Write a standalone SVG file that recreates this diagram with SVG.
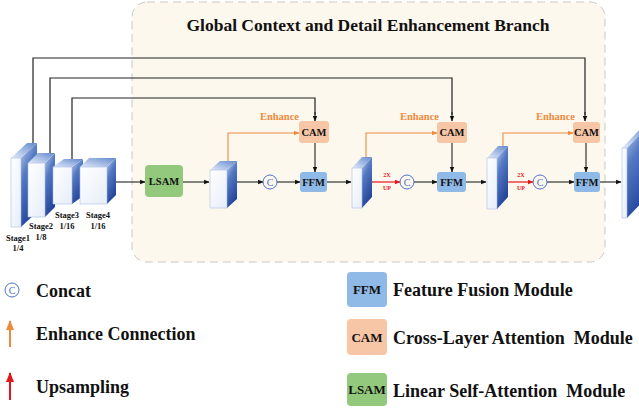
<svg xmlns="http://www.w3.org/2000/svg" width="639" height="408" viewBox="0 0 639 408">
  <defs>
    <linearGradient id="gFront" x1="0" y1="0" x2="1" y2="1">
      <stop offset="0" stop-color="#ffffff"/>
      <stop offset="1" stop-color="#e6edf9"/>
    </linearGradient>
    <linearGradient id="gSide" x1="0" y1="0" x2="0.4" y2="1">
      <stop offset="0" stop-color="#bcd0f0"/>
      <stop offset="0.4" stop-color="#5479c2"/>
      <stop offset="1" stop-color="#22449a"/>
    </linearGradient>
    <linearGradient id="gTop" x1="0" y1="1" x2="1" y2="0">
      <stop offset="0" stop-color="#e3ebf8"/>
      <stop offset="1" stop-color="#6389cd"/>
    </linearGradient>
    <marker id="ah" viewBox="0 0 10 10" refX="9" refY="5" markerWidth="5" markerHeight="5" orient="auto">
      <path d="M0,1 L10,5 L0,9 z" fill="#111"/>
    </marker>
    <marker id="ahO" viewBox="0 0 10 10" refX="9" refY="5" markerWidth="5" markerHeight="5" orient="auto">
      <path d="M0,1 L10,5 L0,9 z" fill="#ef8a3c"/>
    </marker>
    <marker id="ahR" viewBox="0 0 10 10" refX="9" refY="5" markerWidth="5" markerHeight="5" orient="auto">
      <path d="M0,1 L10,5 L0,9 z" fill="#e8141b"/>
    </marker>
  </defs>
  <style>
    text { font-family: "Liberation Serif", "Times New Roman", serif; font-weight: bold; fill: #111; }
    .front { fill: url(#gFront); stroke: #a9bde3; stroke-width: 0.6; }
    .side { fill: url(#gSide); stroke: none; }
    .top { fill: url(#gTop); stroke: none; }
    .ln { fill: none; stroke: #222; stroke-width: 1.2; }
    .arr { fill: none; stroke: #222; stroke-width: 1.1; marker-end: url(#ah); }
    .orange { fill: none; stroke: #ef8a3c; stroke-width: 1.1; marker-end: url(#ahO); }
    .red { fill: none; stroke: #e8141b; stroke-width: 1.2; marker-end: url(#ahR); }
    .thick { stroke-width: 2; }
    .ffm { fill: #8fb9e6; }
    .cam { fill: #f6c6a6; }
    .lsam { fill: #93c97c; }
    .box-t { font-size: 10.5px; text-anchor: middle; }
    .leg-box-t { font-size: 13px; text-anchor: middle; }
    .stage { font-size: 8.5px; text-anchor: middle; }
    .enh { font-size: 10.5px; fill: #ef8a3c; text-anchor: end; }
    .up { font-size: 6px; fill: #e8141b; text-anchor: middle; }
    .cc { fill: none; stroke: #4d72c6; stroke-width: 1; }
    .cc-t { font-size: 10px; fill: #4d72c6; font-weight: normal; text-anchor: middle; }
    .leg { font-size: 18px; }
  </style>

  <!-- branch panel -->
  <rect x="132" y="2" width="473" height="260" rx="15" fill="#fdf8ee" stroke="#c9c9c9" stroke-width="1" stroke-dasharray="8,5"/>
  <text x="368" y="31" font-size="17.5" text-anchor="middle">Global Context and Detail Enhancement Branch</text>

  <!-- connectors -->
  <g id="connectors">
    <!-- skip connections from the encoder stages -->
    <path class="ln" d="M33,147 V58 H585 V115" />
    <path class="arr" d="M585,112 V121" />
    <path class="ln" d="M50,157 V78 H452 V115" />
    <path class="arr" d="M452,112 V121" />
    <path class="ln" d="M72,161 V98 H315 V115" />
    <path class="arr" d="M315,112 V121" />

    <!-- main path -->
    <path class="arr" d="M115,182 H145" />
    <path class="arr" d="M183,182 H209" />
    <path class="arr" d="M237,182 H263" />
    <path class="arr" d="M277,182 H300" />
    <path class="arr" d="M327,182 H351" />
    <path class="red" d="M372,182 H400" />
    <path class="arr" d="M414,182 H437" />
    <path class="arr" d="M466,182 H486" />
    <path class="red" d="M508,182 H533" />
    <path class="arr" d="M547,182 H574" />
    <path class="arr" d="M600,182 H621" />

    <!-- CAM to FFM -->
    <path class="arr" d="M315,143 V172" />
    <path class="arr" d="M452,143 V172" />
    <path class="arr" d="M586,143 V172" />

    <!-- enhance connections -->
    <path class="orange" d="M228,163 V133 H299" />
    <path class="orange" d="M366,160 V133 H437" />
    <path class="orange" d="M503,150 V133 H573" />
  </g>

  <!-- encoder stages -->
  <g id="stage1">
    <polygon class="side" points="21,158 37,143 37,212 21,227"/>
    <polygon class="top" points="11,158 21,158 37,143 27,143"/>
    <rect class="front" x="11" y="158" width="10" height="69"/>
  </g>
  <g id="stage2">
    <polygon class="side" points="45,163 55,153 55,207 45,217"/>
    <polygon class="top" points="28,163 45,163 55,153 38,153"/>
    <rect class="front" x="28" y="163" width="17" height="54"/>
  </g>
  <g id="stage3">
    <polygon class="side" points="72,167 83,159 83,196 72,204"/>
    <polygon class="top" points="53,167 72,167 83,159 64,159"/>
    <rect class="front" x="53" y="167" width="19" height="37"/>
  </g>
  <g id="stage4">
    <polygon class="side" points="107,167 116,158 116,195 107,204"/>
    <polygon class="top" points="80,167 107,167 116,158 89,158"/>
    <rect class="front" x="80" y="167" width="27" height="37"/>
  </g>
  <g id="stage-labels">
    <text class="stage" x="18" y="241">Stage1</text>
    <text class="stage" x="18" y="251">1/4</text>
    <text class="stage" x="41" y="229">Stage2</text>
    <text class="stage" x="41" y="240">1/8</text>
    <text class="stage" x="67" y="218">Stage3</text>
    <text class="stage" x="67" y="229">1/16</text>
    <text class="stage" x="98" y="218">Stage4</text>
    <text class="stage" x="98" y="229">1/16</text>
  </g>

  <g id="lsam">
    <rect class="lsam" x="145" y="165" width="38" height="32" rx="4"/>
    <text class="box-t" x="164" y="185">LSAM</text>
  </g>

  <!-- decoder feature maps -->
  <g id="feat1">
    <polygon class="side" points="227,170 237,161 237,199 227,208"/>
    <polygon class="top" points="210,170 227,170 237,161 220,161"/>
    <rect class="front" x="210" y="170" width="17" height="38"/>
  </g>
  <g id="feat2">
    <polygon class="side" points="362,168 372,157 372,197 362,208"/>
    <polygon class="top" points="352,168 362,168 372,157 362,157"/>
    <rect class="front" x="352" y="168" width="10" height="40"/>
  </g>
  <g id="feat3">
    <polygon class="side" points="497,158 508,146 508,197 497,209"/>
    <polygon class="top" points="487,158 497,158 508,146 498,146"/>
    <rect class="front" x="487" y="158" width="10" height="51"/>
  </g>
  <g id="feat-out">
    <polygon class="side" points="627,148 650,124 650,194 627,218"/>
    <polygon class="top" points="622,148 627,148 650,124 645,124"/>
    <rect class="front" x="622" y="148" width="5" height="70"/>
  </g>

  <!-- attention and fusion modules -->
  <g id="cam1">
    <rect class="cam" x="299" y="121" width="30" height="22" rx="3"/>
    <text class="box-t" x="314" y="136">CAM</text>
  </g>
  <g id="ffm1">
    <rect class="ffm" x="300" y="172" width="27" height="20" rx="3"/>
    <text class="box-t" x="313.5" y="186">FFM</text>
  </g>
  <g id="cam2">
    <rect class="cam" x="437" y="122" width="30" height="21" rx="3"/>
    <text class="box-t" x="452" y="136">CAM</text>
  </g>
  <g id="ffm2">
    <rect class="ffm" x="437" y="172" width="29" height="20" rx="3"/>
    <text class="box-t" x="451.5" y="186">FFM</text>
  </g>
  <g id="cam3">
    <rect class="cam" x="573" y="122" width="27" height="21" rx="3"/>
    <text class="box-t" x="586.5" y="136">CAM</text>
  </g>
  <g id="ffm3">
    <rect class="ffm" x="574" y="172" width="26" height="20" rx="3"/>
    <text class="box-t" x="587" y="186">FFM</text>
  </g>

  <!-- concat nodes -->
  <g id="concat1">
    <circle class="cc" cx="270" cy="182" r="7"/>
    <text class="cc-t" x="270" y="185.5">C</text>
  </g>
  <g id="concat2">
    <circle class="cc" cx="407" cy="182" r="7"/>
    <text class="cc-t" x="407" y="185.5">C</text>
  </g>
  <g id="concat3">
    <circle class="cc" cx="540" cy="182" r="7"/>
    <text class="cc-t" x="540" y="185.5">C</text>
  </g>

  <!-- edge labels -->
  <g id="edge-labels">
    <text class="enh" x="299" y="120">Enhance</text>
    <text class="enh" x="439" y="120">Enhance</text>
    <text class="enh" x="575" y="120">Enhance</text>
    <text class="up" x="387" y="177">2X</text>
    <text class="up" x="387" y="190">UP</text>
    <text class="up" x="521" y="177">2X</text>
    <text class="up" x="521" y="190">UP</text>
  </g>

  <!-- legend -->
  <g id="legend">
    <circle class="cc" cx="12" cy="290" r="7"/>
    <text class="cc-t" x="12" y="293.5">C</text>
    <text class="leg" x="36" y="297">Concat</text>

    <path class="orange thick" d="M10,347 V321"/>
    <text class="leg" x="36" y="340">Enhance Connection</text>

    <path class="red thick" d="M10,400 V373"/>
    <text class="leg" x="36" y="393">Upsampling</text>

    <rect class="ffm" x="347" y="272" width="40" height="35" rx="4"/>
    <text class="leg-box-t" x="367" y="294">FFM</text>
    <text class="leg" x="393" y="296">Feature Fusion Module</text>

    <rect class="cam" x="347" y="319" width="40" height="36" rx="4"/>
    <text class="leg-box-t" x="367" y="341.5">CAM</text>
    <text class="leg" x="393" y="344" xml:space="preserve">Cross-Layer Attention  Module</text>

    <rect class="lsam" x="347" y="373" width="40" height="33" rx="4"/>
    <text class="leg-box-t" x="367" y="394">LSAM</text>
    <text class="leg" x="393" y="397" xml:space="preserve">Linear Self-Attention  Module</text>
  </g>
</svg>
